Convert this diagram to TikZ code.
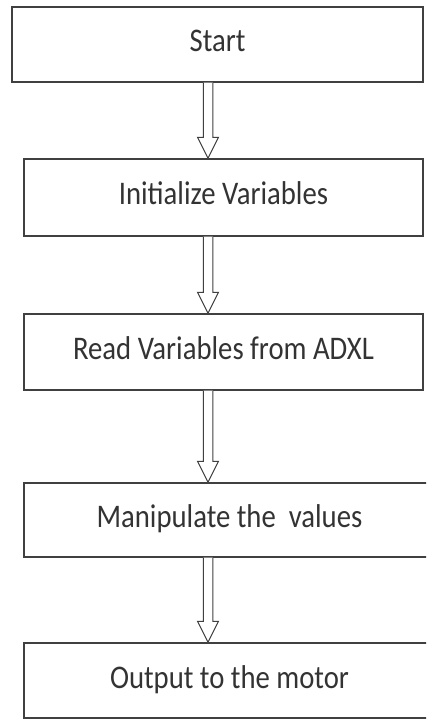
\documentclass[tikz,border=0pt]{standalone}
\usepackage{fontspec}
\setmainfont{Carlito}[FakeStretch=0.87]
\usetikzlibrary{calc}

\begin{document}
\begin{tikzpicture}[
		x=1pt, y=-1pt,
		block/.style	={ rectangle, draw=black!75, line width=1.3pt,
			text=black!80, font=\fontsize{33}{36}\selectfont,
			text height=22pt, text depth=7pt,
			inner sep=0pt, minimum height=75pt
		},
		hollow/.style	={ draw=black!75, line width=1pt, fill=white,
			line join=miter
		},
	]

	% page size
	\clip (0,0) rectangle (426,719);

	% declare blocks
	\node (start) [block, minimum width=411pt] at (217.5,44.5) {Start};
	\node (init) [block, minimum width=399pt, minimum height=77pt] at (223.5,197.5) {Initialize Variables};
	\node (read) [block, minimum width=399pt, minimum height=76pt] at (223.5,352) {Read Variables from ADXL};
	\node (manip) [block, minimum width=411pt, minimum height=74pt] at (229.5,520) {Manipulate the\ \ values};
	\node (motor) [block, minimum width=411pt] at (229.5,680.5) {Output to the motor};

	% axis of the arrows
	\coordinate (axis) at (208,0);

	% draw arrows
	\foreach \from/\to in {start/init, init/read, read/manip, manip/motor} {
		\draw [hollow] let \p1=(\from.south -| axis), \p2=(\to.north -| axis) in
			(\x1-4.75pt,\y1) -- (\x1-4.75pt,\y2+21pt) -- (\x1-10.5pt,\y2+21pt)
			-- (\p2) -- (\x1+10.5pt,\y2+21pt) -- (\x1+4.75pt,\y2+21pt) -- (\x1+4.75pt,\y1);
	}
\end{tikzpicture}
\end{document}
